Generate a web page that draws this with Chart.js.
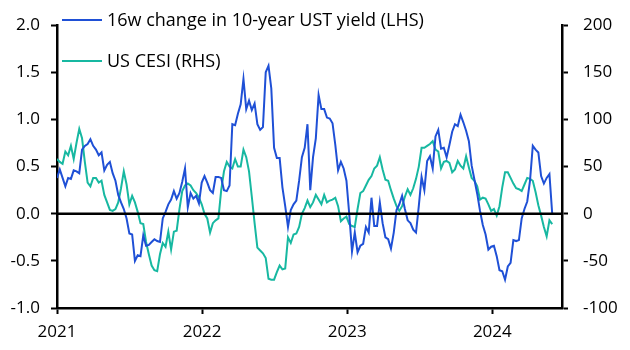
<!DOCTYPE html>
<html><head><meta charset="utf-8">
<script src="https://cdn.jsdelivr.net/npm/chart.js@4"></script>
<style>html,body{margin:0;padding:0;background:#fff}#wrap{width:630px;height:350px}</style>
</head><body><div id="wrap"><canvas id="c" width="630" height="350"></canvas></div>
<script>
// ---- data ----
const startDate = '2021-01-01'; // first weekly observation
const seriesNames = ['16w change in 10-year UST yield (LHS)', 'US CESI (RHS)'];
const ustChange = [
0.38,0.47,0.38,0.29,0.38,0.37,0.46,0.45,0.43,0.68,
0.72,0.74,0.79,0.72,0.68,0.62,0.65,0.46,0.52,0.55,
0.43,0.35,0.20,0.12,0.05,-0.05,-0.21,-0.22,-0.50,-0.44,
-0.45,-0.23,-0.34,-0.33,-0.30,-0.27,-0.29,-0.30,-0.05,0.02,
0.10,0.15,0.24,0.16,0.22,0.34,0.48,0.07,0.22,0.16,
0.19,0.11,0.33,0.40,0.33,0.25,0.22,0.39,0.39,0.38,
0.25,0.24,0.30,0.95,0.94,1.06,1.16,1.43,1.11,1.20,
1.10,1.17,0.95,0.89,0.92,1.50,1.57,1.33,0.70,0.59,
0.59,0.28,0.08,-0.14,0.04,0.10,0.14,0.35,0.60,0.70,
0.95,0.25,0.60,0.80,1.26,1.11,1.11,1.02,1.01,0.96,
0.73,0.46,0.55,0.48,0.35,0.00,-0.40,-0.20,-0.41,-0.34,
-0.32,-0.14,-0.20,0.17,-0.13,-0.13,0.12,-0.10,-0.25,-0.27,
-0.37,-0.20,0.04,0.10,0.19,0.05,-0.07,-0.10,-0.17,-0.20,
0.08,0.39,0.25,0.56,0.61,0.48,0.82,0.89,0.69,0.70,
0.60,0.73,0.87,0.95,0.93,1.05,0.97,0.88,0.77,0.51,
0.36,0.21,0.03,-0.12,-0.22,-0.38,-0.35,-0.34,-0.45,-0.60,
-0.61,-0.70,-0.56,-0.52,-0.28,-0.29,-0.28,-0.05,0.05,0.13,
0.35,0.72,0.68,0.65,0.40,0.32,0.38,0.42,0.00];
const cesi = [
58,55,53,66,62,72,58,75,90,80,
55,33,29,38,38,33,35,20,12,4,
3,5,12,27,45,31,10,19,12,2,
-10,-11,-30,-43,-55,-60,-61,-43,-31,-35,
-19,-38,-19,-18,5,24,30,32,30,25,
22,17,10,0,-5,-20,-10,-7,-5,25,
45,55,50,48,58,50,50,68,60,45,
18,-10,-36,-39,-42,-47,-69,-70,-70,-62,
-55,-59,-58,-25,-31,-22,-21,-14,0,6,
14,7,12,20,15,10,20,12,14,15,
17,8,-8,-5,-3,-11,-13,-14,5,22,
24,30,36,40,48,51,60,47,36,35,
25,16,8,3,8,18,26,20,27,37,
50,70,70,72,74,77,68,66,48,55,
56,54,44,47,56,51,48,61,49,38,
35,29,15,17,16,10,3,5,-2,8,
28,44,44,38,32,27,26,24,31,38,
37,35,23,9,-2,-14,-24,-7,-11];
const yearTicks = [2021, 2022, 2023, 2024];
const leftTicks = [-1.0, -0.5, 0, 0.5, 1.0, 1.5, 2.0];
const rightTicks = [-100, -50, 0, 50, 100, 150, 200];

// ---- helpers ----
function decYear(d){const y=d.getUTCFullYear();const s=Date.UTC(y,0,1),e=Date.UTC(y+1,0,1);return y+(d.getTime()-s)/(e-s);}
const t0 = new Date(startDate+'T00:00:00Z').getTime();
const xs = ustChange.map((_,i)=>decYear(new Date(t0+i*7*86400000)));
const toPts = arr => arr.map((v,i)=>({x:xs[i], y:v}));

const FONT = '"Open Sans"';
Chart.defaults.font.family = FONT;
Chart.defaults.font.size = 17;
Chart.defaults.color = '#000';

const BLUE = '#1f50d6', TEAL = '#17b8a1';

const zeroLine = {id:'zeroLine', afterDatasetsDraw(chart){
  const y = chart.scales.y.getPixelForValue(0), a = chart.chartArea, ctx = chart.ctx;
  ctx.save(); ctx.strokeStyle='#000'; ctx.lineWidth=2.5; ctx.beginPath();
  ctx.moveTo(a.left,y); ctx.lineTo(a.right,y); ctx.stroke(); ctx.restore();
}};
const inLegend = {id:'inLegend', afterDraw(chart){
  const ctx = chart.ctx;
  chart.data.datasets.forEach((ds,i)=>{
    const y = 20 + i*41;
    ctx.save(); ctx.strokeStyle=ds.borderColor; ctx.lineWidth=2;
    ctx.beginPath(); ctx.moveTo(62,y); ctx.lineTo(102,y); ctx.stroke();
    ctx.fillStyle='#000'; ctx.font='18px '+FONT; ctx.textBaseline='middle'; ctx.textAlign='left';
    ctx.fillText(ds.label,107,y+1); ctx.restore();
  });
}};

new Chart(document.getElementById('c'), {
  type:'line',
  data:{datasets:[
    {label:seriesNames[0], data:toPts(ustChange), yAxisID:'y', borderColor:BLUE, borderWidth:2, pointRadius:0, tension:0},
    {label:seriesNames[1], data:toPts(cesi), yAxisID:'y2', borderColor:TEAL, borderWidth:2, pointRadius:0, tension:0}
  ]},
  options:{
    responsive:false, animation:false,
    layout:{padding:{top:15,left:0,right:0,bottom:0}},
    plugins:{legend:{display:false}, tooltip:{enabled:false}},
    scales:{
      x:{type:'linear', min:2021, max:2024.48,
        afterBuildTicks:s=>{s.ticks=yearTicks.map(v=>({value:v}));},
        afterFit:s=>{s.height=42;},
        ticks:{callback:v=>String(v), maxRotation:0, autoSkip:false, padding:8, includeBounds:false},
        grid:{drawOnChartArea:false, drawTicks:true, tickLength:6, tickColor:'#000', tickWidth:2},
        border:{display:true, color:'#000', width:2.5}},
      y:{position:'left', min:-1, max:2,
        afterBuildTicks:s=>{s.ticks=leftTicks.map(v=>({value:v}));},
        afterFit:s=>{s.width=57;},
        ticks:{callback:v=>Number(v).toFixed(1), padding:11},
        grid:{drawOnChartArea:false, tickLength:6, tickColor:'#000', tickWidth:2},
        border:{display:true, color:'#000', width:2.5}},
      y2:{position:'right', min:-100, max:200,
        afterBuildTicks:s=>{s.ticks=rightTicks.map(v=>({value:v}));},
        afterFit:s=>{s.width=68;},
        ticks:{callback:v=>String(v), padding:15},
        grid:{drawOnChartArea:false, tickLength:6, tickColor:'#000', tickWidth:2},
        border:{display:true, color:'#000', width:2.5}}
    }
  },
  plugins:[zeroLine, inLegend]
});
</script>
</body></html>
